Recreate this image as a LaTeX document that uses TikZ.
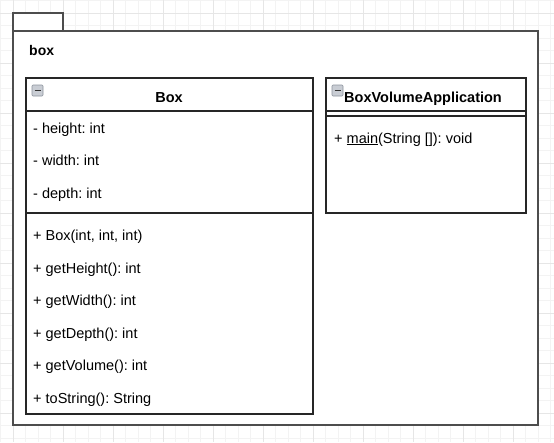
\documentclass[tikz,border=0pt]{standalone}
\usepackage{fontspec}
\setmainfont{Liberation Sans}
\usetikzlibrary{positioning}
\frenchspacing

\definecolor{gridminor}{HTML}{F3F3F3}
\definecolor{gridmajor}{HTML}{E6E6E6}
\definecolor{pkgline}{HTML}{4D4D4D}
\definecolor{iconfill}{HTML}{C9CDD4}
\definecolor{iconline}{HTML}{8C929C}

\begin{document}
\begin{tikzpicture}[x=1pt, y=-1pt,
    member/.style={anchor=base west, inner sep=0pt, font=\fontsize{14.5}{17}\selectfont},
    title/.style={anchor=base, inner sep=0pt, font=\fontsize{14.5}{17}\selectfont\bfseries},
    classline/.style={draw=black!85, line width=1.1pt},
    icon/.style={draw=iconline, fill=iconfill, line width=0.6pt, rounded corners=1pt}]

    % Background
    \useasboundingbox[fill=white] (0,0) rectangle (554,442);
    \foreach \k in {0,...,44} {
        \draw[gridminor, line width=0.8pt] (0.5+12.5*\k,0) -- (0.5+12.5*\k,442);
    }
    \foreach \k in {0,...,35} {
        \draw[gridminor, line width=0.8pt] (0,0.5+12.5*\k) -- (554,0.5+12.5*\k);
    }
    \foreach \k in {0,...,10} {
        \draw[gridmajor, line width=0.8pt] (13+50*\k,0) -- (13+50*\k,442);
    }
    \foreach \k in {0,...,8} {
        \draw[gridmajor, line width=0.8pt] (0,13+50*\k) -- (554,13+50*\k);
    }

    % Package
    \draw[pkgline, line width=1.3pt, fill=white] (13,13) rectangle (63,31);
    \draw[pkgline, line width=1.3pt, fill=white] (13,31) rectangle (538,425);
    \node[title, anchor=base west, font=\fontsize{14}{16}\selectfont\bfseries] (pkgname) at (29,55) {box};

    % Class Box
    \draw[classline, fill=white] (26,78) rectangle (313,414);
    \draw[classline] (26,111) -- (313,111);
    \draw[classline] (26,213) -- (313,213);
    \draw[icon] (32,85) rectangle (43,96);
    \draw[black!80, line width=1.2pt] (34.5,90.5) -- (40.5,90.5);
    \node[title] (boxname) at (169,102) {Box};

    \node[member] (height) at (33,133) {- height: int};
    \node[member] (width) at (33,165) {- width: int};
    \node[member] (depth) at (33,198) {- depth: int};

    \node[member] (ctor) at (33,240) {+ Box(int, int, int)};
    \node[member] (getheight) at (33,273) {+ getHeight(): int};
    \node[member] (getwidth) at (33,305) {+ getWidth(): int};
    \node[member] (getdepth) at (33,338) {+ getDepth(): int};
    \node[member] (getvolume) at (33,370) {+ getVolume(): int};
    \node[member] (tostring) at (33,403) {+ toString(): String};

    % Class BoxVolumeApplication
    \draw[classline, fill=white] (326,78) rectangle (526,213);
    \draw[classline] (326,111) -- (526,111);
    \draw[classline] (326,116) -- (526,116);
    \draw[icon] (332,85) rectangle (343,96);
    \draw[black!80, line width=1.2pt] (334.5,90.5) -- (340.5,90.5);
    \node[title, anchor=base west] (appname) at (344,102) {BoxVolumeApplication};

    \node[member] (main) at (334,143) {+ \underline{main}(String []): void};

\end{tikzpicture}
\end{document}
